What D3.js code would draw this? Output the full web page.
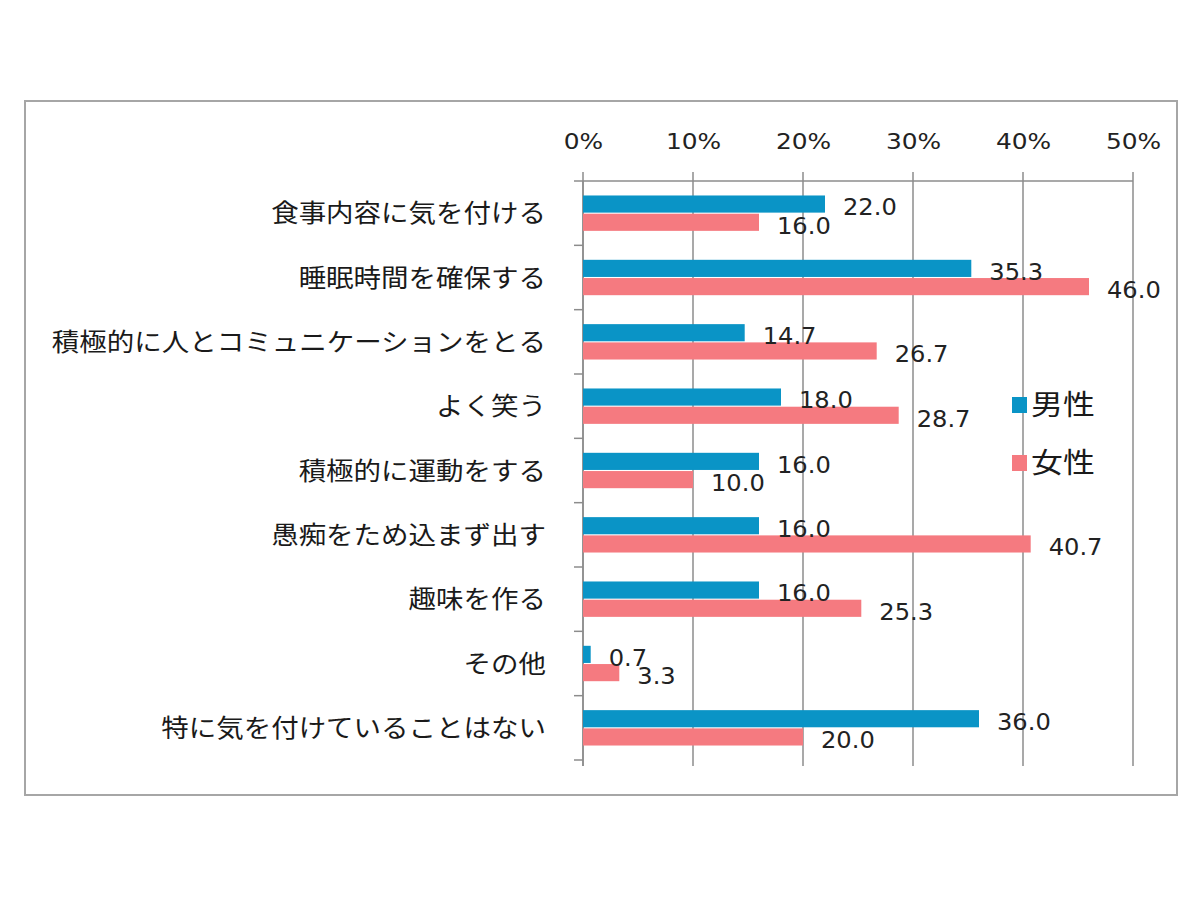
<!DOCTYPE html>
<html><head><meta charset="utf-8">
<script src="https://cdn.jsdelivr.net/npm/d3@7"></script>
<style>body{margin:0;background:#fff;} svg{display:block;}</style>
</head><body>
<svg id="c" width="1200" height="900"></svg>
<script>
const categories = ["食事内容に気を付ける","睡眠時間を確保する","積極的に人とコミュニケーションをとる","よく笑う","積極的に運動をする","愚痴をため込まず出す","趣味を作る","その他","特に気を付けていることはない"];
const seriesNames = ["男性","女性"];
const male = [22.0,35.3,14.7,18.0,16.0,16.0,16.0,0.7,36.0];
const female = [16.0,46.0,26.7,28.7,10.0,40.7,25.3,3.3,20.0];
const tickValues = [0,10,20,30,40,50];
const colors = ["#0a94c6","#f57a80"];

(function(){
const svg = d3.select("#c");
const jp = "'Noto Sans CJK JP','Noto Sans',sans-serif";
const num = "'DejaVu Sans','Noto Sans',sans-serif";

svg.append("rect").attr("x",25).attr("y",101).attr("width",1152).attr("height",694)
  .attr("fill","#fff").attr("stroke","#a6a6a6").attr("stroke-width",2);

const yTop = 181, yBot = 760;
const x = d3.scaleLinear().domain([0,50]).range([583,1133]);
const y = d3.scaleBand().domain(categories).range([yTop,yBot]).paddingInner(0.45).paddingOuter(0.225);
const ys = d3.scaleBand().domain(seriesNames).range([0,y.bandwidth()]).paddingInner(0.06);
const step = y.step();

// gridlines
svg.append("g").selectAll("line").data(tickValues).join("line")
  .attr("x1",d=>x(d)).attr("x2",d=>x(d)).attr("y1",yTop-9).attr("y2",yBot+6)
  .attr("stroke","#8c8c8c").attr("stroke-width",1.5);

// top axis
const ax = svg.append("g").attr("transform",`translate(0,${yTop})`)
  .call(d3.axisTop(x).tickValues(tickValues).tickFormat(d=>d+"%").tickSize(0).tickPadding(32));
ax.select(".domain").attr("stroke","#8c8c8c").attr("stroke-width",1.5).attr("d",`M${x(0)},0H${x(50)}`);
ax.selectAll("text").attr("font-family",num).attr("font-size",22).attr("fill","#222")
  .attr("transform","scale(1.13,1)");

// left axis
svg.append("line").attr("x1",x(0)).attr("x2",x(0)).attr("y1",yTop).attr("y2",yBot+6)
  .attr("stroke","#8c8c8c").attr("stroke-width",1.5);
const bounds = d3.range(categories.length+1).map(i=>yTop+i*step);
svg.append("g").selectAll("line").data(bounds).join("line")
  .attr("x1",x(0)-9).attr("x2",x(0)).attr("y1",d=>d).attr("y2",d=>d)
  .attr("stroke","#8c8c8c").attr("stroke-width",1.5);

// category labels
svg.append("g").selectAll("text").data(categories).join("text")
  .attr("transform",d=>`translate(546,${y(d)+y.bandwidth()/2}) scale(1.1,1)`)
  .attr("dy","0.36em")
  .attr("text-anchor","end").attr("font-family",jp).attr("font-size",25).attr("fill","#1a1a1a")
  .text(d=>d);

// bars
const rows = categories.map((c,i)=>({c, vals:[male[i],female[i]]}));
const g = svg.append("g").selectAll("g").data(rows).join("g").attr("transform",d=>`translate(0,${y(d.c)})`);
g.selectAll("rect").data(d=>d.vals.map((v,j)=>({v,s:seriesNames[j],j}))).join("rect")
  .attr("x",x(0)).attr("y",d=>ys(d.s)).attr("width",d=>x(d.v)-x(0)).attr("height",ys.bandwidth())
  .attr("fill",d=>colors[d.j]);
g.selectAll("text").data(d=>d.vals.map((v,j)=>({v,s:seriesNames[j],j}))).join("text")
  .attr("transform",d=>`translate(${x(d.v)+18},${ys(d.s)+ys.bandwidth()/2+3}) scale(1.05,1)`)
  .attr("dy","0.36em")
  .attr("font-family",num).attr("font-size",23).attr("fill","#222")
  .text(d=>d.v.toFixed(1));

// legend
const lg = svg.append("g").selectAll("g").data(seriesNames).join("g")
  .attr("transform",(d,i)=>`translate(1012,${405+i*58})`);
lg.append("rect").attr("x",0).attr("y",-8).attr("width",15).attr("height",16).attr("fill",(d,i)=>colors[i]);
lg.append("text").attr("transform",`translate(19,0) scale(1.14,1)`).attr("dy","0.36em")
  .attr("font-family",jp).attr("font-size",28)
  .attr("fill","#1a1a1a").text(d=>d);
})();
</script>
</body></html>
